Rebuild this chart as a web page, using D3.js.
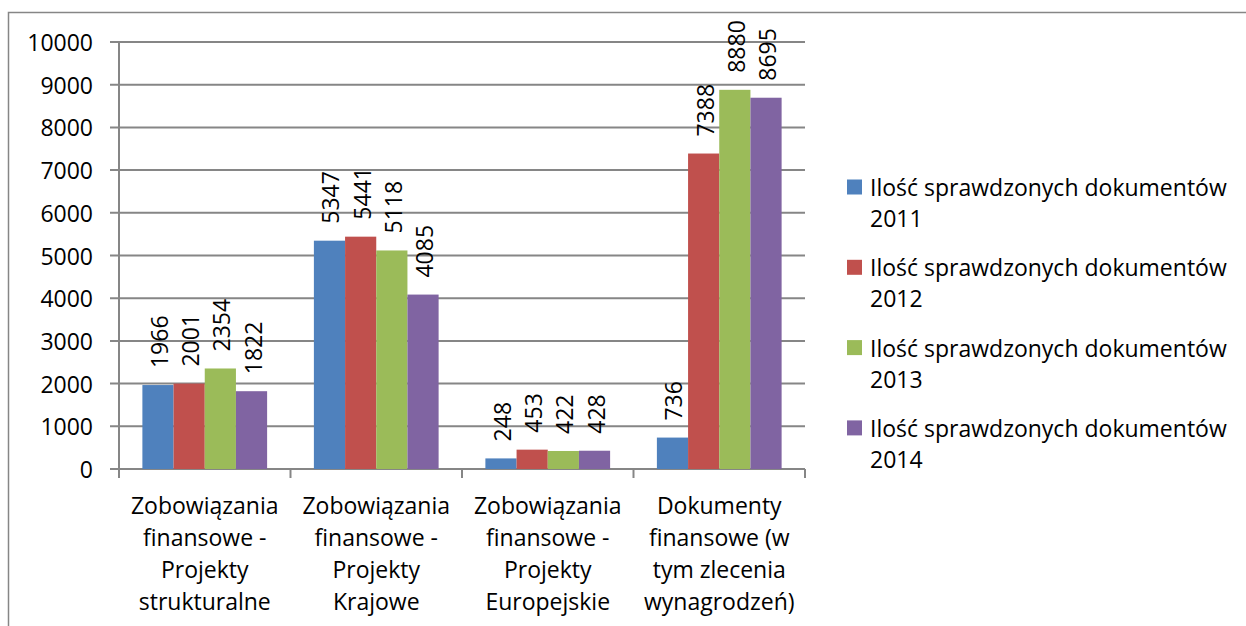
<!DOCTYPE html>
<meta charset="utf-8">
<style>

body {
  margin: 0;
  background: #fff;
}

text {
  font-family: "Open Sans", sans-serif;
  font-size: 23px;
  fill: #000;
}

</style>

<svg width="1246" height="626"></svg>

<script src="https://d3js.org/d3.v7.min.js"></script>
<script>

// categories (x axis), each label split into its lines
var categories = ["c1", "c2", "c3", "c4"];
var categoryLines = [
  ["Zobowiązania", "finansowe -", "Projekty", "strukturalne"],
  ["Zobowiązania", "finansowe -", "Projekty", "Krajowe"],
  ["Zobowiązania", "finansowe -", "Projekty", "Europejskie"],
  ["Dokumenty", "finansowe (w", "tym zlecenia", "wynagrodzeń)"]
];

var seriesNames = [
  "Ilość sprawdzonych dokumentów 2011",
  "Ilość sprawdzonych dokumentów 2012",
  "Ilość sprawdzonych dokumentów 2013",
  "Ilość sprawdzonych dokumentów 2014"
];
var seriesColors = ["#4F81BD", "#C0504D", "#9BBB59", "#8064A2"];

var values2011 = [1966, 5347, 248, 736];
var values2012 = [2001, 5441, 453, 7388];
var values2013 = [2354, 5118, 422, 8880];
var values2014 = [1822, 4085, 428, 8695];

var yTicks = [0, 1000, 2000, 3000, 4000, 5000, 6000, 7000, 8000, 9000, 10000];

var allSeries = [values2011, values2012, values2013, values2014];

var svg = d3.select("svg");

// outer chart border (goes off the right / bottom of the picture)
svg.append("rect")
    .attr("x", 8.5)
    .attr("y", 12.5)
    .attr("width", 1300)
    .attr("height", 700)
    .attr("fill", "none")
    .attr("stroke", "#868686")
    .attr("stroke-width", 1.5);

var plot = {left: 119, right: 805, top: 42, bottom: 469};

var x = d3.scaleBand()
    .domain(categories)
    .range([plot.left, plot.right])
    .paddingInner(0)
    .paddingOuter(0);

// gap between groups is 150% of a bar width (Excel style)
var barW = x.bandwidth() / (seriesNames.length + 1.5);
var xs = d3.scaleBand()
    .domain(d3.range(seriesNames.length))
    .range([barW * 0.75, x.bandwidth() - barW * 0.75])
    .padding(0);

var y = d3.scaleLinear()
    .domain([0, 10000])
    .range([plot.bottom, plot.top]);

var gridColor = "#868686";

// gridlines + y ticks
svg.append("g")
  .selectAll("line")
  .data(yTicks)
  .enter().append("line")
    .attr("x1", plot.left - 9)
    .attr("x2", plot.right)
    .attr("y1", function(d) { return y(d); })
    .attr("y2", function(d) { return y(d); })
    .attr("stroke", gridColor)
    .attr("stroke-width", 2);

svg.append("g")
  .selectAll("text")
  .data(yTicks)
  .enter().append("text")
    .attr("x", 93)
    .attr("y", function(d) { return y(d); })
    .attr("text-anchor", "end")
    .attr("dominant-baseline", "central")
    .text(function(d) { return d; });

// y axis line
svg.append("line")
    .attr("x1", plot.left).attr("x2", plot.left)
    .attr("y1", plot.top).attr("y2", plot.bottom + 8)
    .attr("stroke", gridColor)
    .attr("stroke-width", 2);

// x axis category ticks
var xTickPos = categories.map(function(c) { return x(c); }).concat([plot.right]);
svg.append("g")
  .selectAll("line")
  .data(xTickPos)
  .enter().append("line")
    .attr("x1", function(d) { return d; })
    .attr("x2", function(d) { return d; })
    .attr("y1", plot.bottom)
    .attr("y2", plot.bottom + 9)
    .attr("stroke", gridColor)
    .attr("stroke-width", 2);

// bars
var groups = svg.append("g")
  .selectAll("g")
  .data(allSeries)
  .enter().append("g")
    .attr("fill", function(d, i) { return seriesColors[i]; });

groups.each(function(vals, si) {
  var g = d3.select(this);
  g.selectAll("rect")
    .data(vals)
    .enter().append("rect")
      .attr("x", function(d, ci) { return x(categories[ci]) + xs(si); })
      .attr("y", function(d) { return y(d); })
      .attr("width", xs.bandwidth())
      .attr("height", function(d) { return plot.bottom - y(d); });

  g.selectAll("text")
    .data(vals)
    .enter().append("text")
      .attr("transform", function(d, ci) {
        var cx = x(categories[ci]) + xs(si) + xs.bandwidth() / 2 + 1;
        return "translate(" + cx + "," + (y(d) - 17) + ") rotate(-90)";
      })
      .attr("dominant-baseline", "central")
      .style("fill", "#000")
      .text(function(d) { return d; });
});

// x axis labels
var xl = svg.append("g")
  .selectAll("text")
  .data(categoryLines)
  .enter().append("text")
    .attr("text-anchor", "middle")
    .attr("x", function(d, i) { return x(categories[i]) + x.bandwidth() / 2; });

xl.selectAll("tspan")
  .data(function(d) { return d; })
  .enter().append("tspan")
    .attr("x", function() { return this.parentNode.getAttribute("x"); })
    .attr("y", function(d, i) { return 505 + i * 32; })
    .attr("dominant-baseline", "central")
    .text(function(d) { return d; });

// legend
var legend = svg.append("g")
  .selectAll("g")
  .data(seriesNames)
  .enter().append("g")
    .attr("transform", function(d, i) { return "translate(847," + (187 + i * 80.3) + ")"; });

legend.append("rect")
    .attr("x", 0)
    .attr("y", -7.5)
    .attr("width", 15)
    .attr("height", 15)
    .attr("fill", function(d, i) { return seriesColors[i]; });

legend.append("text")
    .attr("x", 23)
    .attr("y", 0)
    .attr("dominant-baseline", "central")
    .text(function(d) { return d.slice(0, d.lastIndexOf(" ")); });

legend.append("text")
    .attr("x", 23)
    .attr("y", 31)
    .attr("dominant-baseline", "central")
    .text(function(d) { return d.slice(d.lastIndexOf(" ") + 1); });

</script>
